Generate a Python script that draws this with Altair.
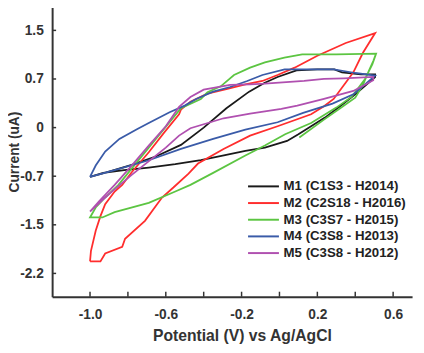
import altair as alt
import pandas as pd

series_names = [
    "M1 (C1S3 - H2014)",
    "M2 (C2S18 - H2016)",
    "M3 (C3S7 - H2015)",
    "M4 (C3S8 - H2013)",
    "M5 (C3S8 - H2012)",
]
colors = ["#1a1a1a", "#ff2d2d", "#5cc542", "#3a5ba8", "#b050b0"]

# Potential (V) and current (uA) along each closed voltammogram
m1_v = [-1.0, -0.9, -0.78, -0.65, -0.52, -0.4, -0.28, -0.16, -0.08, -0.01, 0.09, 0.2, 0.29, 0.33, 0.43, 0.505,
        0.505, 0.4, 0.32, 0.24, 0.167, 0.1, 0.04, -0.077, -0.18, -0.3, -0.415, -0.55, -0.69, -0.82, -0.93, -1.0]
m1_i = [-0.74, -0.66, -0.56, -0.43, -0.26, 0.0, 0.29, 0.54, 0.67, 0.76, 0.86, 0.875, 0.875, 0.83, 0.80, 0.80,
        0.76, 0.5, 0.32, 0.15, 0.02, -0.1, -0.2, -0.3, -0.35, -0.42, -0.49, -0.55, -0.6, -0.64, -0.68, -0.74]

m2_v = [-1.0, -0.945, -0.92, -0.83, -0.815, -0.71, -0.62, -0.56, -0.48, -0.43, -0.295, -0.155, -0.01, 0.167,
        0.235, 0.286, 0.39, 0.44, 0.505, 0.35, 0.2, 0.08, -0.01, -0.09, -0.18, -0.275, -0.38, -0.47, -0.52,
        -0.53, -0.61, -0.69, -0.78, -0.83, -0.87, -0.92, -0.945, -0.97, -0.995, -1.0]
m2_i = [-2.01, -2.01, -1.89, -1.79, -1.67, -1.4, -1.05, -0.9, -0.69, -0.54, -0.32, -0.12, 0.02, 0.2,
        0.32, 0.43, 0.83, 1.12, 1.42, 1.27, 1.08, 0.9, 0.79, 0.7, 0.65, 0.58, 0.51, 0.39, 0.27,
        0.2, -0.08, -0.37, -0.67, -0.86, -0.96, -1.15, -1.33, -1.55, -1.85, -2.01]

m3_v = [0.105, 0.235, 0.33, 0.4, 0.44, 0.47, 0.495, 0.51,
        0.3, 0.12, 0.026, -0.077, -0.155, -0.24, -0.31, -0.38, -0.415, -0.52, -0.69, -0.85, -0.92, -0.97, -1.0,
        -0.935, -0.87, -0.69, -0.55, -0.47, -0.35, -0.18, -0.077, 0.03, 0.167, 0.3, 0.38, 0.45, 0.49, 0.51]
m3_i = [-0.15, 0.12, 0.31, 0.45, 0.64, 0.84, 1.0, 1.11,
        1.1, 1.1, 1.05, 0.98, 0.9, 0.79, 0.62, 0.53, 0.43, 0.29, -0.3, -0.86, -1.05, -1.2, -1.35,
        -1.35, -1.27, -1.13, -0.96, -0.86, -0.68, -0.42, -0.27, -0.1, 0.07, 0.3, 0.46, 0.72, 0.95, 1.11]

m4_v = [-1.0, -0.97, -0.92, -0.845, -0.75, -0.69, -0.58, -0.5, -0.44, -0.35, -0.26, -0.17, -0.09, 0.027, 0.286,
        0.4, 0.505, 0.39, 0.28, 0.125, -0.01, -0.18, -0.35, -0.52, -0.69, -0.87, -1.0]
m4_i = [-0.74, -0.57, -0.36, -0.17, -0.02, 0.07, 0.23, 0.33, 0.43, 0.54, 0.61, 0.7, 0.79, 0.875, 0.875,
        0.82, 0.78, 0.5, 0.36, 0.22, 0.08, -0.03, -0.17, -0.32, -0.49, -0.64, -0.74]

m5_v = [-1.0, -0.95, -0.87, -0.78, -0.69, -0.6, -0.53, -0.47, -0.4, -0.26, -0.155, -0.077, 0.13, 0.235, 0.34, 0.495,
        0.495, 0.39, 0.235, 0.094, 0.01, -0.155, -0.295, -0.47, -0.53, -0.6, -0.78, -0.9, -1.0]
m5_i = [-1.26, -1.1, -0.86, -0.57, -0.27, 0.02, 0.31, 0.46, 0.57, 0.64, 0.65, 0.66, 0.7, 0.73, 0.74, 0.76,
        0.71, 0.55, 0.43, 0.33, 0.28, 0.21, 0.14, -0.01, -0.12, -0.3, -0.71, -1.0, -1.26]

x_domain = [-1.2, 0.7]
y_domain = [-2.54, 1.82]
x_ticks = [-1.0, -0.8, -0.6, -0.4, -0.2, 0.0, 0.2, 0.4, 0.6]
y_ticks = [-2.19, -1.46, -0.73, 0.0, 0.73, 1.46]
x_tick_len = 0.075
y_tick_len = 0.021

rows = []
for name, vs, cs in zip(series_names, [m1_v, m2_v, m3_v, m4_v, m5_v], [m1_i, m2_i, m3_i, m4_i, m5_i]):
    for k, (v, c) in enumerate(zip(vs, cs)):
        rows.append({"series": name, "v": v, "i": c, "k": k})
df = pd.DataFrame(rows)

xt = pd.DataFrame({"v": x_ticks, "i": [y_domain[0]] * len(x_ticks),
                   "i2": [y_domain[0] + x_tick_len] * len(x_ticks)})
yt = pd.DataFrame({"i": y_ticks, "v": [x_domain[0]] * len(y_ticks),
                   "v2": [x_domain[0] + y_tick_len] * len(y_ticks)})

MINUS = "\u2212"
x_axis = alt.Axis(
    values=x_ticks,
    labelExpr="abs(round(datum.value*10)) % 4 == 2 ? replace(format(datum.value, '.1f'), '" + MINUS + "', '-') : ''",
    ticks=False, grid=False, labelOverlap=False, labelFlush=False, labelPadding=11,
    title="Potential (V) vs Ag/AgCl", titleX=193.5, titleY=45, titleAlign="center",
    titleBaseline="alphabetic", titleFontSize=16,
)
y_axis = alt.Axis(
    values=y_ticks,
    labelExpr="datum.value == 0 ? '0' : replace(format(datum.value, '.1f'), '" + MINUS + "', '-')",
    ticks=False, grid=False, labelOverlap=False, labelFlush=False, labelPadding=9,
    title="Current (uA)", titleX=-34, titleY=148, titleAlign="center", titleAngle=270,
    titleBaseline="alphabetic", titleFontSize=14,
)

X = alt.X("v:Q", scale=alt.Scale(domain=x_domain, nice=False, zero=False), axis=x_axis)
Y = alt.Y("i:Q", scale=alt.Scale(domain=y_domain, nice=False, zero=False), axis=y_axis)

lines = alt.Chart(df).mark_line(strokeWidth=1.8).encode(
    x=X, y=Y,
    color=alt.Color("series:N", scale=alt.Scale(domain=series_names, range=colors),
                    legend=alt.Legend(title=None, orient="none", legendX=207, legendY=175,
                                      symbolType="M-2.1,0H2.1", symbolSize=225, symbolStrokeWidth=2,
                                      labelOffset=12, labelFont="Liberation Sans", labelFontWeight="bold",
                                      labelFontSize=13.5, labelColor="#222222", rowPadding=2, padding=0,
                                      labelLimit=300)),
    order="k:Q",
)

xticks_layer = alt.Chart(xt).mark_rule(color="#333333", strokeWidth=1.5).encode(x=X, y=Y, y2="i2:Q")
yticks_layer = alt.Chart(yt).mark_rule(color="#333333", strokeWidth=1.5).encode(y=Y, x=X, x2="v2:Q")

chart = alt.layer(xticks_layer, yticks_layer, lines).properties(
    width=367, height=296,
    autosize=alt.AutoSizeParams(type="none"),
    padding={"left": 45, "top": -5, "right": 4, "bottom": 54},
).configure_axis(
    domainColor="#333333", domainWidth=2,
    labelFont="Liberation Sans", labelFontWeight="bold", labelFontSize=14, labelColor="#333333",
    titleFont="Liberation Sans", titleFontWeight="bold", titleColor="#333333",
).configure_view(stroke=None)

chart.save("out.html", embed_options={"renderer": "svg", "actions": False})
